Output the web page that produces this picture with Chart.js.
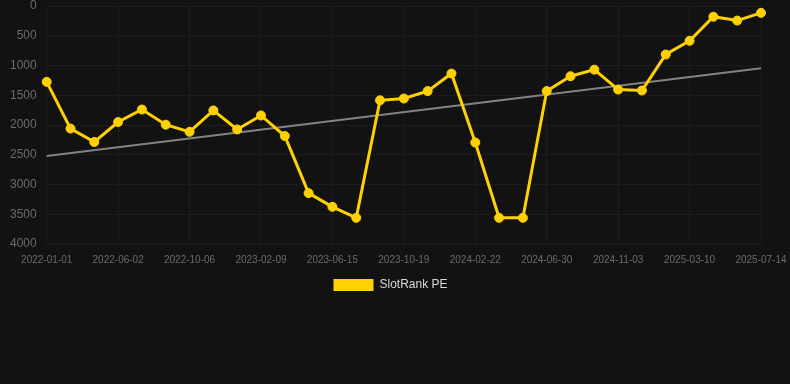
<!DOCTYPE html>
<html>
<head>
<meta charset="utf-8">
<script src="https://cdn.jsdelivr.net/npm/chart.js@4/dist/chart.umd.min.js"></script>
<style>
  html, body { margin: 0; padding: 0; background: #121212; }
  #wrap { width: 790px; height: 384px; }
</style>
</head>
<body>
<div id="wrap"><canvas id="c" width="790" height="384"></canvas></div>
<script>
const dates = [
  "2022-01-01","2022-02-21","2022-04-12","2022-06-02","2022-07-14","2022-08-25",
  "2022-10-06","2022-11-17","2022-12-29","2023-02-09","2023-03-23","2023-05-04",
  "2023-06-15","2023-07-27","2023-09-07","2023-10-19","2023-11-30","2024-01-11",
  "2024-02-22","2024-04-05","2024-05-18","2024-06-30","2024-08-11","2024-09-22",
  "2024-11-03","2024-12-15","2025-01-27","2025-03-10","2025-04-21","2025-06-02",
  "2025-07-14"
];
const rankPE = [
  1275, 2060, 2285, 1950, 1740, 1995, 2115, 1755, 2075, 1840, 2185, 3145,
  3375, 3560, 1585, 1555, 1430, 1135, 2295, 3560, 3560, 1430, 1180, 1070,
  1405, 1420, 815, 585, 180, 245, 115
];
const trend = [
  2520, null, null, null, null, null, null, null, null, null, null, null,
  null, null, null, null, null, null, null, null, null, null, null, null,
  null, null, null, null, null, null, 1045
];
const yTicks = [0, 500, 1000, 1500, 2000, 2500, 3000, 3500, 4000];
const seriesName = "SlotRank PE";

const yellow = "#FFD100";
new Chart(document.getElementById("c"), {
  type: "line",
  data: {
    labels: dates,
    datasets: [
      {
        label: seriesName,
        data: rankPE,
        borderColor: yellow,
        backgroundColor: yellow,
        pointBackgroundColor: yellow,
        pointBorderColor: yellow,
        borderWidth: 3,
        pointRadius: 4.5,
        pointBorderWidth: 1,
        tension: 0,
        order: 0
      },
      {
        label: "trend",
        data: trend,
        borderColor: "rgba(150,150,150,0.85)",
        backgroundColor: "rgba(150,150,150,0.85)",
        borderWidth: 2,
        pointRadius: 0,
        spanGaps: true,
        order: 1
      }
    ]
  },
  options: {
    responsive: false,
    animation: false,
    layout: { padding: { left: 0, right: 9, top: 0, bottom: 83 } },
    scales: {
      x: {
        type: "category",
        offset: false,
        grid: { color: "rgba(255,255,255,0.045)", drawTicks: false },
        border: { display: false },
        afterFit: function (s) { s.paddingRight = 29; },
        ticks: {
          autoSkip: false,
          maxRotation: 0,
          color: "#6b6b6b",
          font: { size: 10 },
          padding: 10,
          callback: function (v, i) { return i % 3 === 0 ? dates[i] : null; }
        }
      },
      y: {
        reverse: true,
        min: yTicks[0],
        max: yTicks[yTicks.length - 1],
        afterBuildTicks: function (ax) { ax.ticks = yTicks.map(v => ({ value: v })); },
        afterFit: function (s) { s.paddingTop = 6; s.paddingBottom = 0; },
        grid: { color: "rgba(255,255,255,0.045)", drawTicks: false },
        border: { display: false },
        ticks: {
          color: "#6b6b6b",
          font: { size: 12 },
          padding: 10,
          callback: function (v) { return String(v); }
        }
      }
    },
    plugins: {
      legend: {
        position: "bottom",
        labels: {
          color: "#d8d8d8",
          font: { size: 12 },
          boxWidth: 40,
          boxHeight: 12,
          padding: 3,
          filter: function (item) {
            item.lineWidth = 0;
            return item.datasetIndex === 0;
          }
        }
      },
      tooltip: { enabled: false }
    }
  }
});
</script>
</body>
</html>
